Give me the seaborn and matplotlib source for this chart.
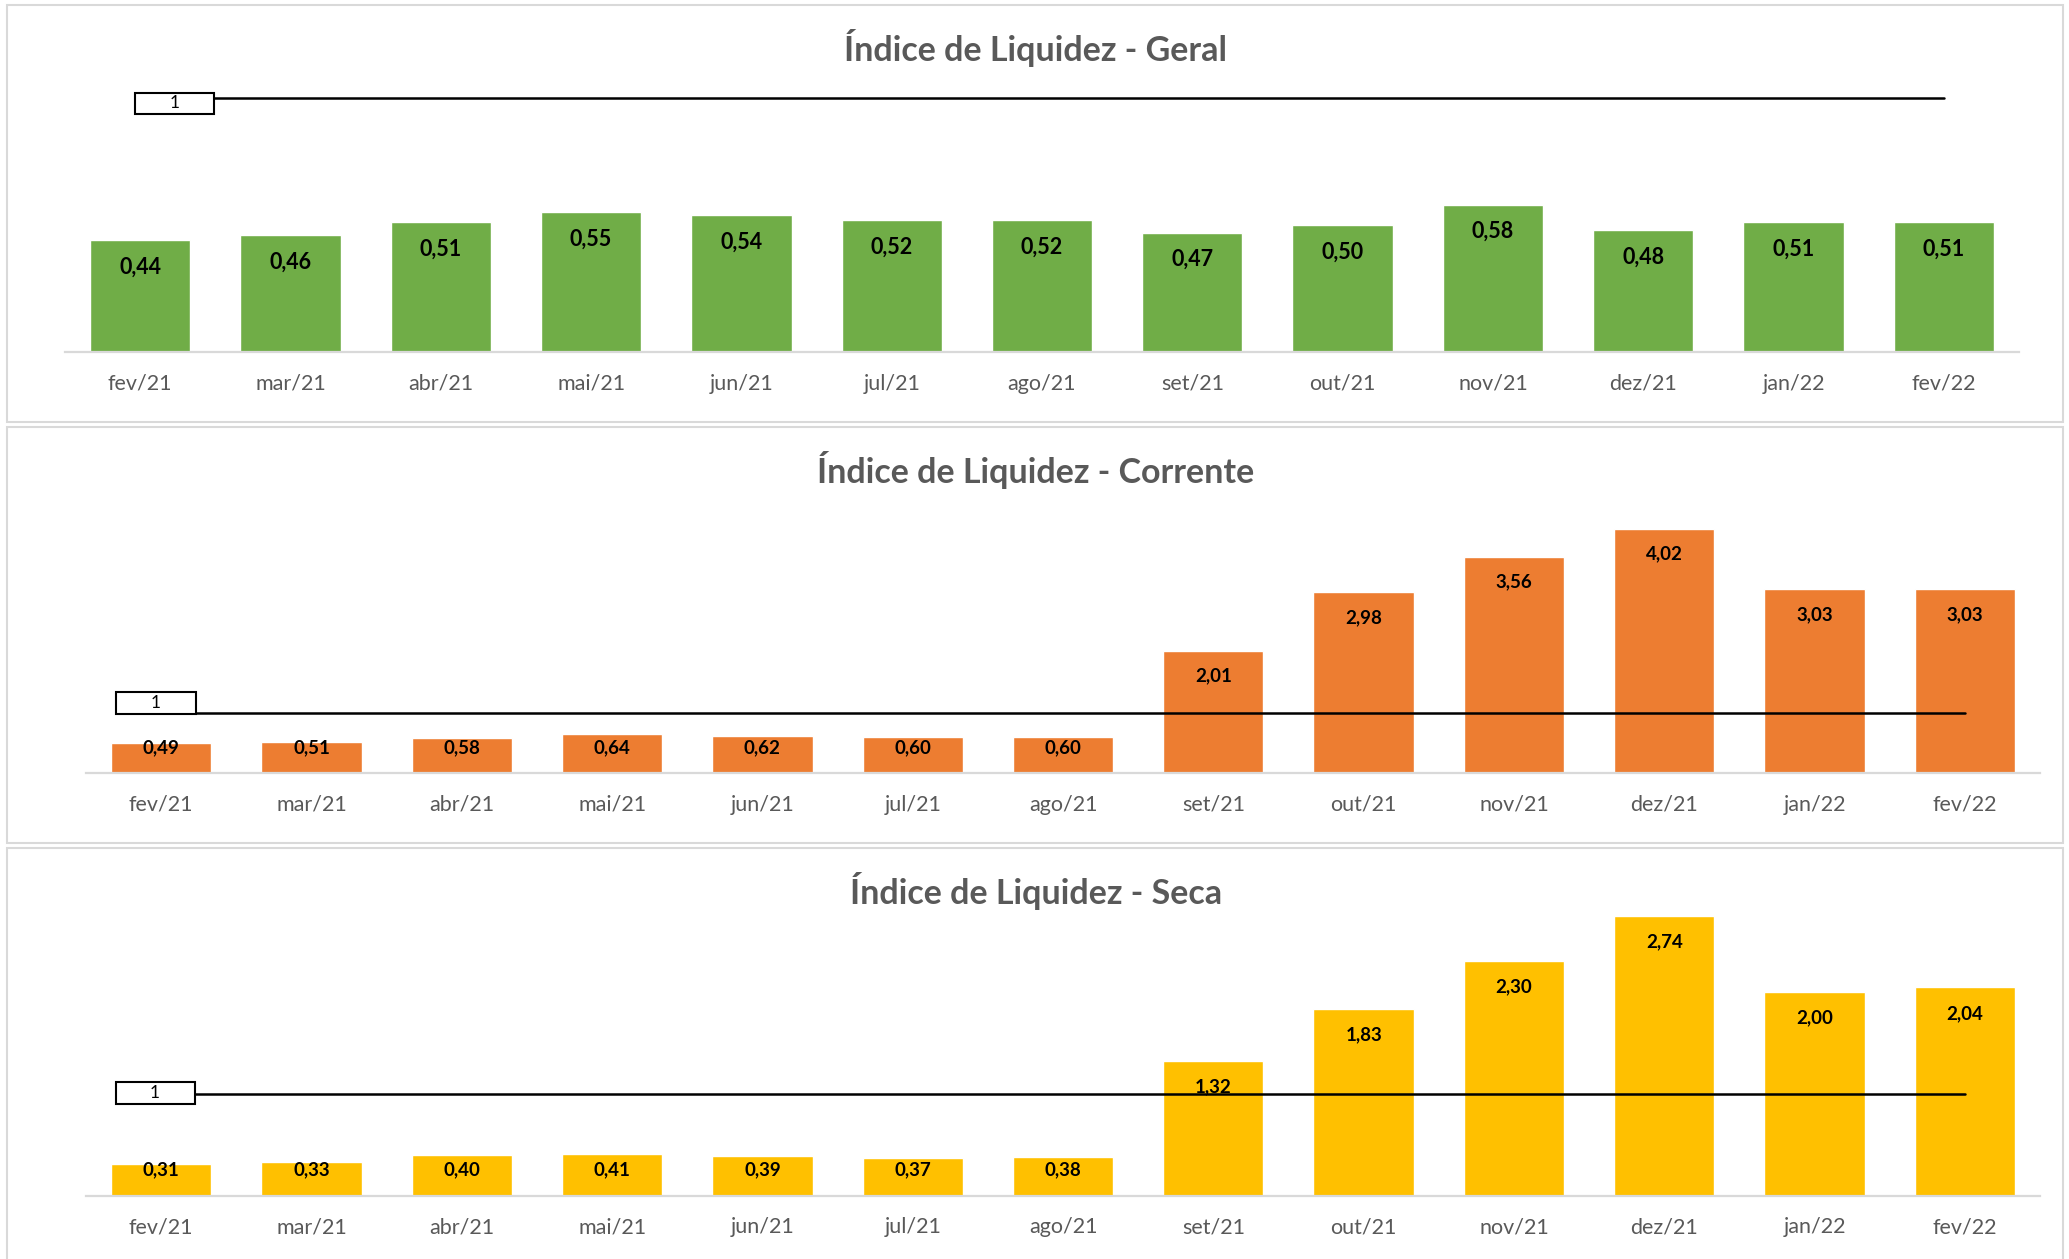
import numpy as np
import matplotlib
matplotlib.use("Agg")
import matplotlib.pyplot as plt
import matplotlib.transforms as mtransforms
from matplotlib.patches import Rectangle
import seaborn as sns

meses = ['fev/21', 'mar/21', 'abr/21', 'mai/21', 'jun/21', 'jul/21', 'ago/21',
         'set/21', 'out/21', 'nov/21', 'dez/21', 'jan/22', 'fev/22']
geral = [0.44, 0.46, 0.51, 0.55, 0.54, 0.52, 0.52, 0.47, 0.50, 0.58, 0.48, 0.51, 0.51]
corrente = [0.49, 0.51, 0.58, 0.64, 0.62, 0.60, 0.60, 2.01, 2.98, 3.56, 4.02, 3.03, 3.03]
seca = [0.31, 0.33, 0.40, 0.41, 0.39, 0.37, 0.38, 1.32, 1.83, 2.30, 2.74, 2.00, 2.04]
referencia = [1, 1, 1, 1, 1, 1, 1, 1, 1, 1, 1, 1, 1]

titulos = ['Índice de Liquidez - Geral', 'Índice de Liquidez - Corrente', 'Índice de Liquidez - Seca']
cores = ['#70AD47', '#ED7D31', '#FFC000']

sns.set_theme(style='white')
plt.rcParams['font.family'] = ['Lato', 'DejaVu Sans']

W, H = 2069, 1259
fig = plt.figure(figsize=(W / 100, H / 100), dpi=100)
fig.patch.set_facecolor('white')

# layout in pixels (from top): left, right, top of axes, baseline, px per unit
paineis = [
    dict(left=65, right=2019, top=60, base=352.3, ppu=254.7, box=(134.5, 92.5, 214, 114),
         title_y=48, frame=(5, 422), lbl=15.5, off=27),
    dict(left=86, right=2040, top=490, base=773.2, ppu=60.7, box=(116, 691.5, 195.5, 713.5),
         title_y=470, frame=(427, 843), lbl=13.5, off=25),
    dict(left=86, right=2040, top=905, base=1195.5, ppu=102.0, box=(115.5, 1082, 194.5, 1103.5),
         title_y=891, frame=(848, 1264), lbl=13.5, off=26),
]

for p, valores, cor, titulo in zip(paineis, [geral, corrente, seca], cores, titulos):
    fig.patches.append(Rectangle((7 / W, 1 - p['frame'][1] / H), (2063 - 7) / W,
                                 (p['frame'][1] - p['frame'][0]) / H,
                                 transform=fig.transFigure, fill=False,
                                 ec='#d9d9d9', lw=1.5, zorder=0))
    ax = fig.add_axes([p['left'] / W, 1 - p['base'] / H,
                       (p['right'] - p['left']) / W, (p['base'] - p['top']) / H])
    ax.set_facecolor('none')
    sns.barplot(x=meses, y=valores, color=cor, saturation=1, width=0.667, ax=ax, zorder=2)
    n = len(meses)
    sns.lineplot(x=list(range(n)), y=referencia, color='black', lw=1.8, ax=ax, zorder=3)
    ax.set_xlim(-0.5, n - 0.5)
    ax.set_ylim(0, (p['base'] - p['top']) / p['ppu'])

    for s in ['top', 'left', 'right']:
        ax.spines[s].set_visible(False)
    ax.spines['bottom'].set_color('#d9d9d9')
    ax.spines['bottom'].set_linewidth(1.6)
    ax.set_yticks([])
    ax.set_xlabel('')
    ax.set_ylabel('')
    ax.tick_params(axis='x', length=0, pad=15.5, labelsize=15.5, labelcolor='#595959')

    # data labels: inside end, kept above the baseline for short bars
    for i, v in enumerate(valores):
        dy = max(-p['off'], p['off'] - v * p['ppu'])
        tr = mtransforms.offset_copy(ax.transData, fig=fig, x=0, y=dy, units='dots')
        ax.text(i, v, f'{v:.2f}'.replace('.', ','), transform=tr, ha='center', va='center',
                fontsize=p['lbl'], fontweight='bold', color='black', zorder=4)

    # label box of the reference line
    x0, y0, x1, y1 = p['box']
    fig.patches.append(Rectangle((x0 / W, 1 - y1 / H), (x1 - x0) / W, (y1 - y0) / H,
                                 transform=fig.transFigure, fc='white', ec='black',
                                 lw=1.5, zorder=5))
    fig.text((x0 + x1) / 2 / W, 1 - (y0 + y1) / 2 / H, str(referencia[0]),
             ha='center', va='center', fontsize=12.5, color='black', zorder=6)

    fig.text(1036 / W, 1 - p['title_y'] / H, titulo, ha='center', va='center',
             fontsize=24.5, fontweight='bold', color='#595959')

fig.savefig('out.png', dpi=100, facecolor='white')
